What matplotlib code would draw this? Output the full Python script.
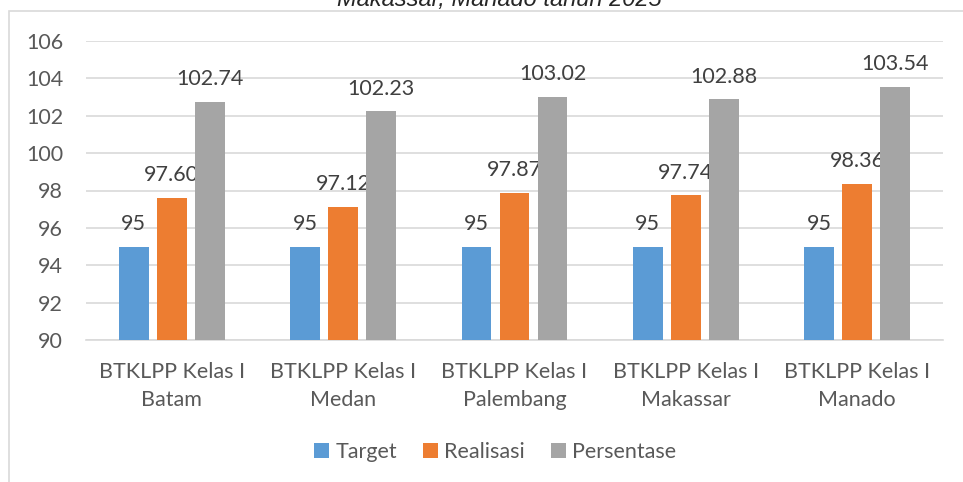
import numpy as np
import matplotlib.pyplot as plt
from matplotlib.patches import Rectangle

# data
categories = ["BTKLPP Kelas I\nBatam", "BTKLPP Kelas I\nMedan", "BTKLPP Kelas I\nPalembang",
              "BTKLPP Kelas I\nMakassar", "BTKLPP Kelas I\nManado"]
target = [95, 95, 95, 95, 95]
realisasi = [97.60, 97.12, 97.87, 97.74, 98.36]
persentase = [102.74, 102.23, 103.02, 102.88, 103.54]
target_labels = ["95", "95", "95", "95", "95"]
realisasi_labels = ["97.60", "97.12", "97.87", "97.74", "98.36"]
persentase_labels = ["102.74", "102.23", "103.02", "102.88", "103.54"]
yticks = [90, 92, 94, 96, 98, 100, 102, 104, 106]

txt = "#595959"
font = "Lato"

fig = plt.figure(figsize=(9.63, 4.82), dpi=100)
ax = fig.add_axes([86 / 963, 1 - 340 / 482, (943 - 86) / 963, (340 - 41) / 482])

x = np.arange(len(categories))
w = 0.174
off = 0.222
series = [
    (target, target_labels, "#5B9BD5", "Target"),
    (realisasi, realisasi_labels, "#ED7D31", "Realisasi"),
    (persentase, persentase_labels, "#A5A5A5", "Persentase"),
]
for i, (vals, labs, col, name) in enumerate(series):
    pos = x + (i - 1) * off
    bars = ax.bar(pos, np.array(vals) - 90, width=w, bottom=90, color=col, label=name, zorder=3)
    ax.bar_label(bars, labels=labs, padding=9, fontsize=15.5, color="#404040", family=font)

ax.set_ylim(90, 106)
ax.set_xlim(-0.5, len(categories) - 0.5)
ax.set_yticks(yticks)
ax.set_yticklabels([str(t) for t in yticks], fontsize=15.5, color=txt, family=font)
ax.set_xticks(x)
ax.set_xticklabels(categories, fontsize=15.5, color=txt, family=font, linespacing=1.5)
ax.tick_params(axis="both", length=0)
ax.tick_params(axis="x", pad=16)
ax.tick_params(axis="y", pad=16.5)
ax.grid(axis="y", color="#D9D9D9", linewidth=1.2, zorder=0)
for s in ["top", "right", "left"]:
    ax.spines[s].set_visible(False)
ax.spines["bottom"].set_color("#D9D9D9")
ax.spines["bottom"].set_linewidth(1.2)

leg = fig.legend(loc="center", bbox_to_anchor=(495 / 963, 1 - 452 / 482), ncol=3, frameon=False,
                 handlelength=0.7, handleheight=0.7, handletextpad=0.3, columnspacing=1.2,
                 prop={"family": font, "size": 15.5})
for t in leg.get_texts():
    t.set_color(txt)

# chart border, runs off the right and bottom
fig.patches.append(Rectangle((9 / 963, -0.1), 1.0, 1 - 11 / 482 + 0.1, transform=fig.transFigure,
                             fill=False, edgecolor="#D9D9D9", linewidth=1.2))

# title, cut off at the top like the source
fig.text(499 / 963, 1 - 6 / 482, "Makassar, Manado tahun 2025", ha="center", va="baseline",
         fontsize=17, style="italic", family="Liberation Sans", color="#262626")

fig.savefig("out.png", dpi=100)
